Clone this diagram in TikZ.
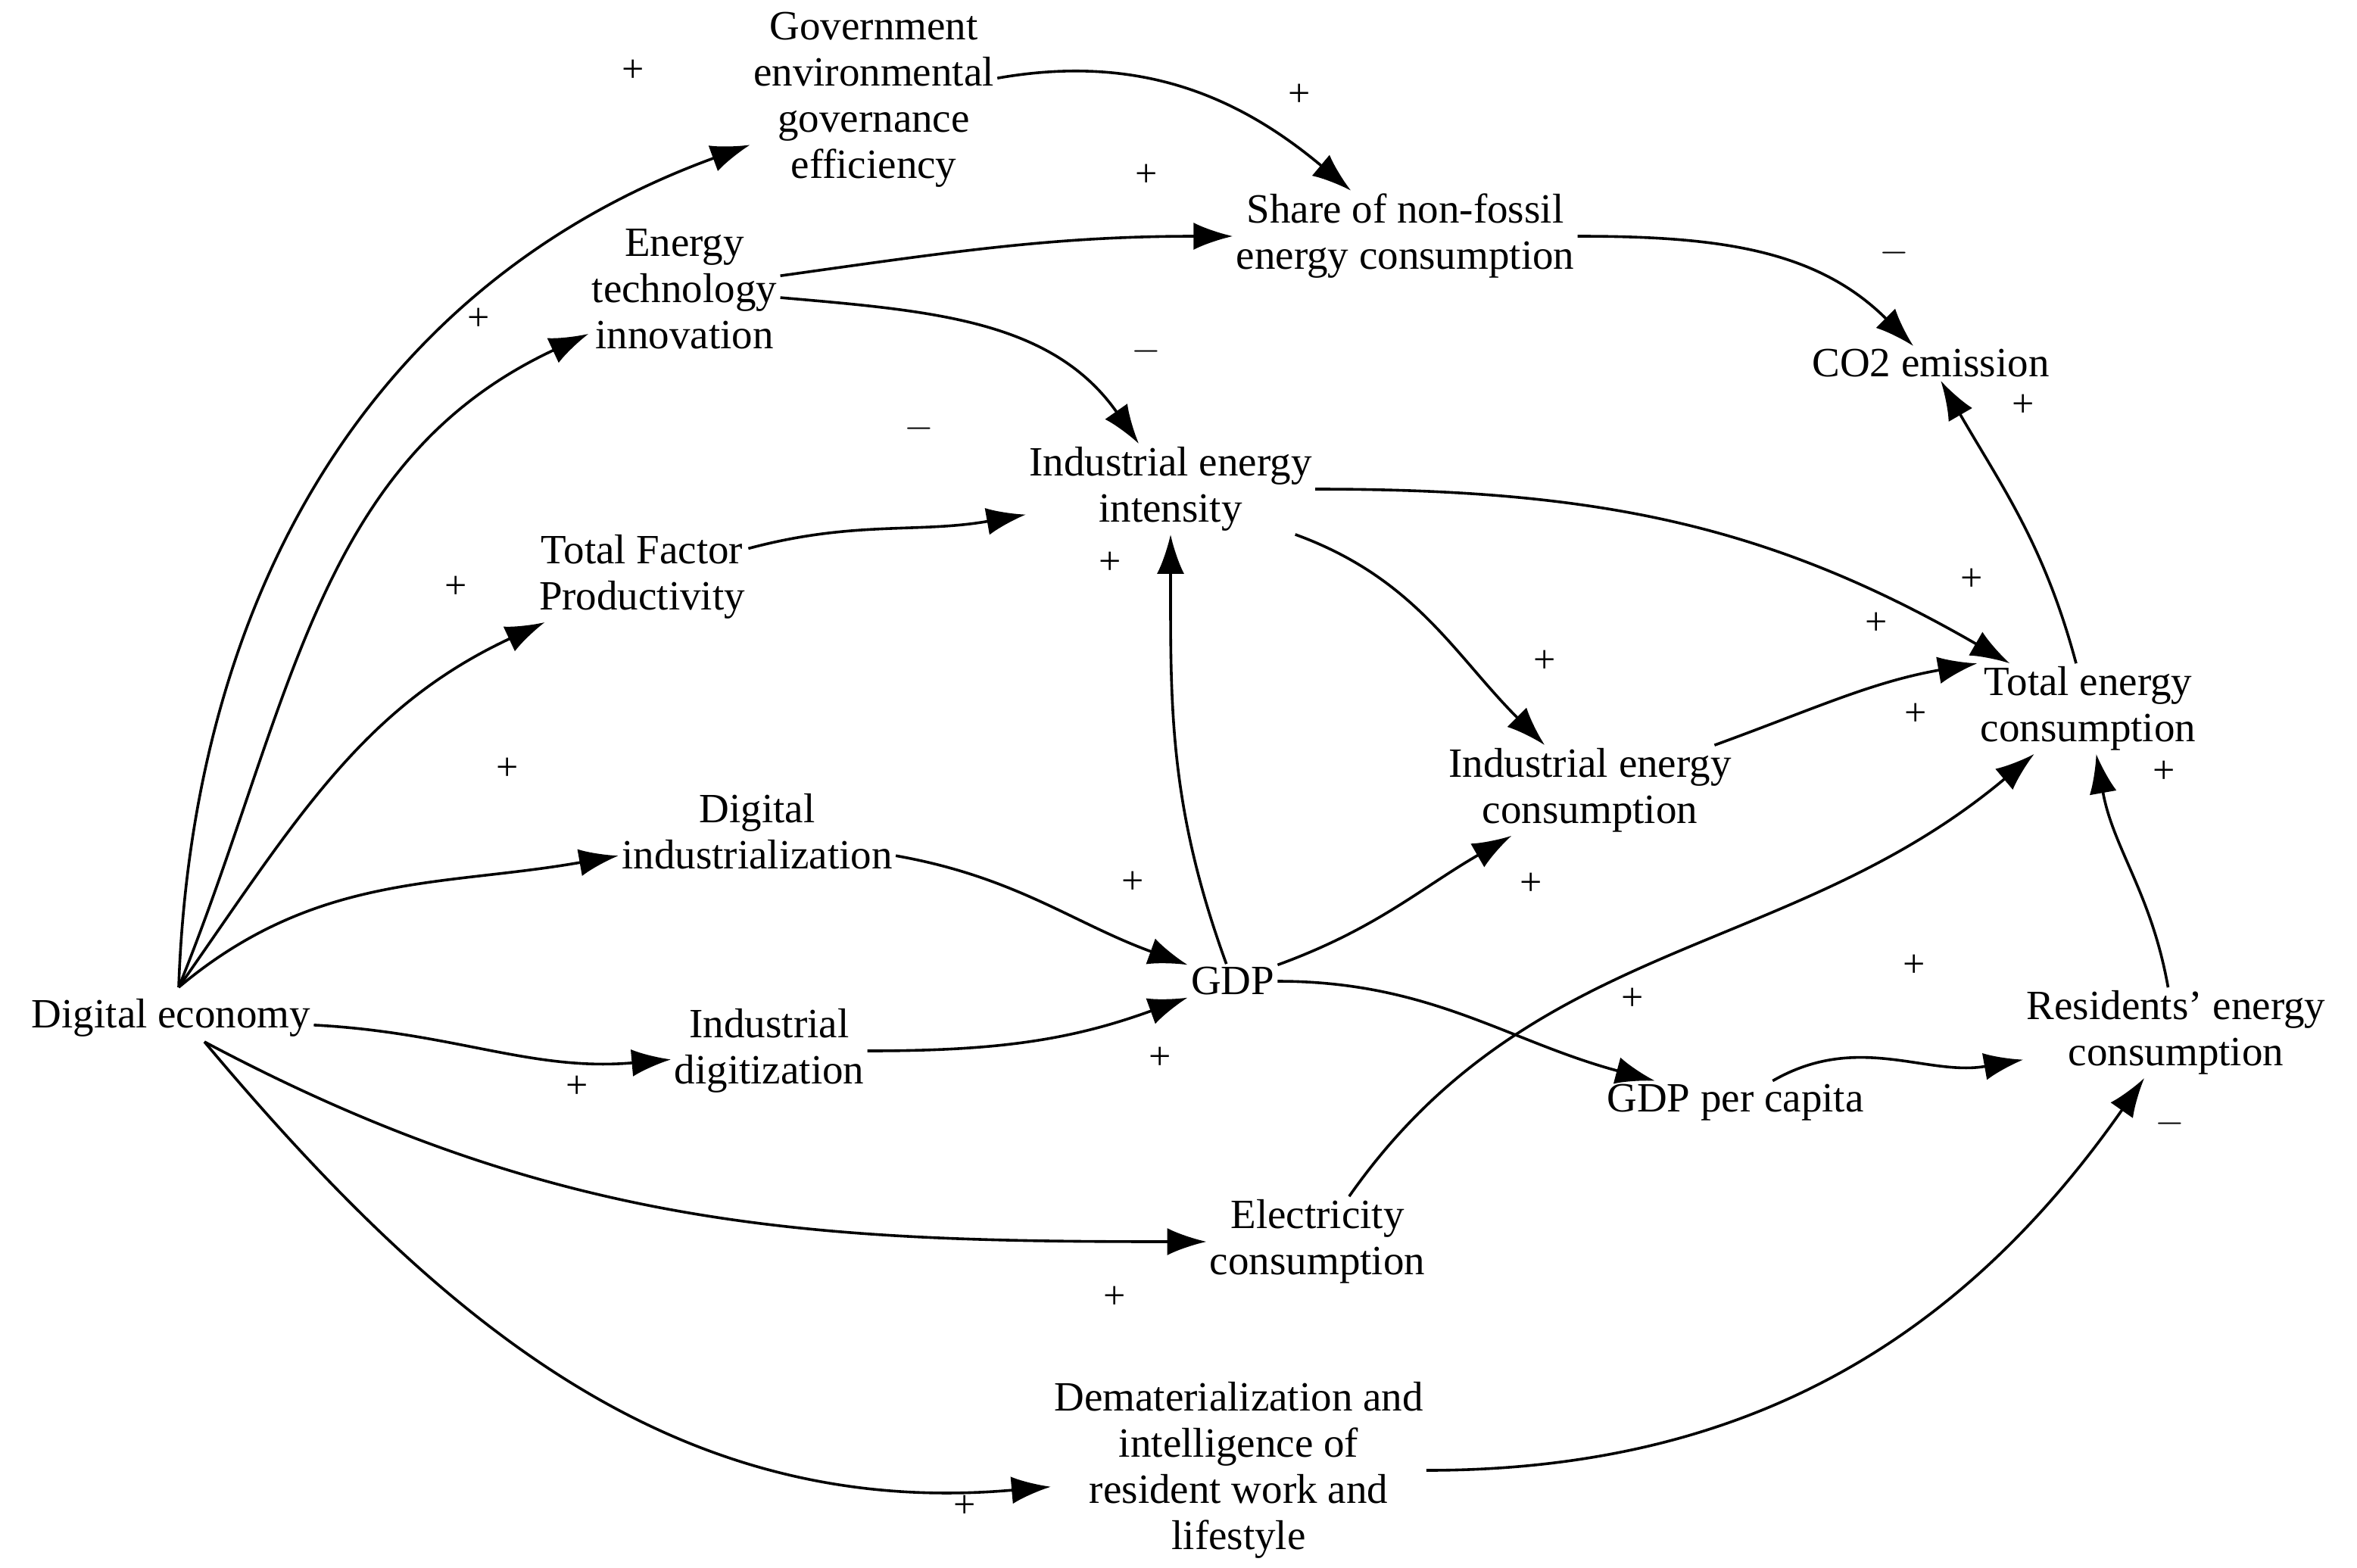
\documentclass[tikz,border=0pt]{standalone}
\usepackage{fontspec}
\setmainfont{Liberation Serif}
\usetikzlibrary{arrows.meta}
\begin{document}
\begin{tikzpicture}[x=1pt,y=-1pt,
  v/.style={align=center,inner sep=2pt,font=\fontsize{27.5}{30.5}\selectfont},
  s/.style={inner sep=0pt,font=\fontsize{26}{28}\selectfont},
  e/.style={line width=1.8pt,-{Latex[length=26pt,width=18pt]}}]
\useasboundingbox (0,0) rectangle (1556.5,1035);
\node[v] (gov) at (577,66) {Government\\environmental\\governance\\efficiency};
\node[v] (share) at (928,156) {Share of non-fossil\\energy consumption};
\node[v] (et) at (452,191) {Energy\\technology\\innovation};
\node[v] (co2) at (1275,240) {CO2 emission};
\node[v] (iei) at (773,323) {Industrial energy\\intensity};
\node[v] (tfp) at (424,381) {Total Factor\\Productivity};
\node[v] (tec) at (1379,468) {Total energy\\consumption};
\node[v] (iec) at (1050,522) {Industrial energy\\consumption};
\node[v] (digind) at (500,549) {Digital\\industrialization};
\node[v] (gdp) at (814,648) {GDP};
\node[v] (de) at (113,672) {Digital economy};
\node[v] (indig) at (508,694) {Industrial\\digitization};
\node[v] (res) at (1437,682) {Residents' energy\\consumption};
\node[v] (gdppc) at (1146,728) {GDP per capita};
\node[v] (elec) at (870,820) {Electricity\\consumption};
\node[v] (demat) at (818,971) {Dematerialization and\\intelligence of\\resident work and\\lifestyle};
\coordinate (d0) at (118,652);
\coordinate (d1) at (135,688);
\draw[e] (d0) to[out=88,in=200] (gov);
\draw[e] (d0) to[out=68,in=205] (et);
\draw[e] (d0) to[out=55,in=205] (tfp);
\draw[e] (d0) to[out=40,in=190] (digind);
\draw[e] (de) to[out=-3,in=185] (indig);
\draw[e] (d1) to[out=-28,in=180] (elec);
\draw[e] (d1) to[out=-50,in=185] (demat);
\draw[e] (gov) to[out=10,in=140] (share);
\draw[e] (et) to[out=8,in=180] (share);
\draw[e] (et) to[out=-5,in=125] (iei);
\draw[e] (tfp) to[out=15,in=190] (iei);
\draw[e] (share) to[out=0,in=135] (co2);
\draw[e] (iei) to[out=0,in=150] (tec);
\draw[e] (iei) to[out=-20,in=135] (iec);
\draw[e] (digind) to[out=-10,in=160] (gdp);
\draw[e] (indig) to[out=0,in=200] (gdp);
\draw[e] (gdp) to[out=110,in=-90] (iei);
\draw[e] (gdp) to[out=20,in=210] (iec);
\draw[e] (gdp) to[out=0,in=165] (gdppc);
\draw[e] (iec) to[out=20,in=190] (tec.north west);
\draw[e] (elec) to[out=55,in=220] (tec);
\draw[e] (gdppc) to[out=30,in=190] (res);
\draw[e] (res) to[out=100,in=-80] (tec);
\draw[e] (tec) to[out=105,in=-60] (co2);
\draw[e] (demat) to[out=0,in=235] (res);
\node[s] (s1) at (418,47) {+};
\node[s] (s2) at (316,211) {+};
\node[s] (s3) at (301,388) {+};
\node[s] (s4) at (335,508) {+};
\node[s] (s5) at (381,718) {+};
\node[s] (s6) at (736,857) {+};
\node[s] (s7) at (637,995) {+};
\node[s] (s8) at (858,63) {+};
\node[s] (s9) at (757,116) {+};
\node[s] (s10) at (757,232) {$-$};
\node[s] (s11) at (607,283) {$-$};
\node[s] (s12) at (1251,167) {$-$};
\node[s] (s13) at (1302,383) {+};
\node[s] (s14) at (1020,437) {+};
\node[s] (s15) at (748,583) {+};
\node[s] (s16) at (766,699) {+};
\node[s] (s17) at (733,372) {+};
\node[s] (s18) at (1011,584) {+};
\node[s] (s19) at (1078,660) {+};
\node[s] (s20) at (1239,412) {+};
\node[s] (s21) at (1265,472) {+};
\node[s] (s22) at (1264,638) {+};
\node[s] (s23) at (1429,510) {+};
\node[s] (s24) at (1336,268) {+};
\node[s] (s25) at (1433,742) {$-$};
\end{tikzpicture}
\end{document}
